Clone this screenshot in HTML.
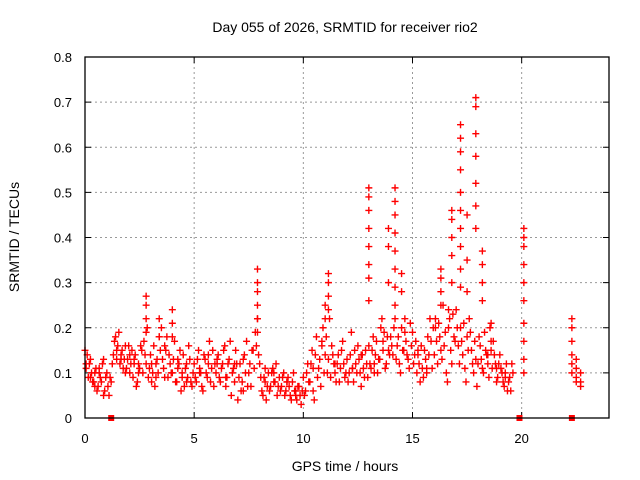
<!DOCTYPE html>
<html><head><meta charset="utf-8"><style>
body{margin:0;background:#fff}
svg{display:block;font-family:"Liberation Sans",sans-serif}
</style></head><body>
<svg id="chart" width="640" height="480">
<text x="345" y="32" font-size="14" text-anchor="middle">Day 055 of 2026, SRMTID for receiver rio2</text>
<text x="345" y="471" font-size="14" text-anchor="middle">GPS time / hours</text>
<text x="19" y="237" font-size="14" text-anchor="middle" transform="rotate(-90 19 237)">SRMTID / TECUs</text>
<g id="grid"></g><g id="ticks"></g><g id="marks"></g>
<rect x="85" y="57" width="524" height="361" fill="none" stroke="#000" stroke-width="1.3"/>
</svg>
<script>
const xTicks=[0,5,10,15,20];
const yTicks=[0,0.1,0.2,0.3,0.4,0.5,0.6,0.7,0.8];
const yTickLabels=["0","0.1","0.2","0.3","0.4","0.5","0.6","0.7","0.8"];
const hours=[
0.0,0.1,0.2,0.3,0.4,0.5,0.6,0.7,0.8,0.9,
1.0,1.1,1.2,1.3,1.4,1.5,1.6,1.7,1.8,1.9,
2.0,2.1,2.2,2.3,2.4,2.5,2.6,2.7,2.8,2.9,
3.0,3.1,3.2,3.3,3.4,3.5,3.6,3.7,3.8,3.9,
4.0,4.1,4.2,4.3,4.4,4.5,4.6,4.7,4.8,4.9,
5.0,5.1,5.2,5.3,5.4,5.5,5.6,5.7,5.8,5.9,
6.0,6.1,6.2,6.3,6.4,6.5,6.6,6.7,6.8,6.9,
7.0,7.1,7.2,7.3,7.4,7.5,7.6,7.7,7.8,7.9,
8.0,8.1,8.2,8.3,8.4,8.5,8.6,8.7,8.8,8.9,
9.0,9.1,9.2,9.3,9.4,9.5,9.6,9.7,9.8,9.9,
10.0,10.1,10.2,10.3,10.4,10.5,10.6,10.7,10.8,10.9,
11.0,11.1,11.2,11.3,11.4,11.5,11.6,11.7,11.8,11.9,
12.0,12.1,12.2,12.3,12.4,12.5,12.6,12.7,12.8,12.9,
13.0,13.1,13.2,13.3,13.4,13.5,13.6,13.7,13.8,13.9,
14.0,14.1,14.2,14.3,14.4,14.5,14.6,14.7,14.8,14.9,
15.0,15.1,15.2,15.3,15.4,15.5,15.6,15.7,15.8,15.9,
16.0,16.1,16.2,16.3,16.4,16.5,16.6,16.7,16.8,16.9,
17.0,17.1,17.2,17.3,17.4,17.5,17.6,17.7,17.8,17.9,
18.0,18.1,18.2,18.3,18.4,18.5,18.6,18.7,18.8,18.9,
19.0,19.1,19.2,19.3,19.4,19.5,19.6,
0.05,0.25,0.45,0.65,0.85,1.45,1.65,1.85,2.05,2.25,2.45,3.05,3.25,3.65,4.25,4.45,4.65,5.25,5.65,6.05,6.45,6.85,7.25,8.25,8.65,9.25,9.65,10.45,10.85,11.45,12.25,12.65,13.25,13.65,14.65,15.25,15.65,16.05,16.65,18.45,18.85,19.25,
2.8,2.8,2.8,2.8,3.4,3.4,4.0,4.0,4.0,
7.9,7.9,7.9,7.9,7.9,7.9,
11.15,11.15,11.15,11.15,11.0,11.0,
13.0,13.0,13.0,13.0,13.0,13.0,13.0,13.0,13.9,13.9,13.9,
14.2,14.2,14.2,14.2,14.2,14.2,14.2,14.2,14.5,14.5,
16.3,16.3,16.3,16.3,16.8,16.8,16.8,16.8,16.8,
17.2,17.2,17.2,17.2,17.2,17.2,17.2,17.2,17.2,17.2,17.5,17.5,17.5,
17.9,17.9,17.9,17.9,17.9,17.9,17.9,18.2,18.2,18.2,18.2,18.6,18.6,
20.1,20.1,20.1,20.1,20.1,20.1,20.1,20.1,20.1,20.1,
22.3,22.3,22.3,22.3,22.3,22.3,22.5,22.5,22.5,22.5,22.7,22.7,22.7,
0.05,0.15,0.25,0.35,0.45,0.55,0.65,0.75,0.85,0.95,
1.05,1.15,1.25,1.35,1.45,1.55,1.65,1.75,1.85,1.95,
2.05,2.15,2.25,2.35,2.45,2.55,2.65,2.75,2.85,2.95,
3.05,3.15,3.25,3.35,3.45,3.55,3.65,3.75,3.85,3.95,
4.05,4.15,4.25,4.35,4.45,4.55,4.65,4.75,4.85,4.95,
5.05,5.15,5.25,5.35,5.45,5.55,5.65,5.75,5.85,5.95,
6.05,6.15,6.25,6.35,6.45,6.55,6.65,6.75,6.85,6.95,
7.05,7.15,7.25,7.35,7.45,7.55,7.65,7.75,7.85,7.95,
8.05,8.15,8.25,8.35,8.45,8.55,8.65,8.75,8.85,8.95,
9.05,9.15,9.25,9.35,9.45,9.55,9.65,9.75,9.85,9.95,
10.05,10.15,10.25,10.35,10.45,10.55,10.65,10.75,10.85,10.95,
11.05,11.15,11.25,11.35,11.45,11.55,11.65,11.75,11.85,11.95,
12.05,12.15,12.25,12.35,12.45,12.55,12.65,12.75,12.85,12.95,
13.05,13.15,13.25,13.35,13.45,13.55,13.65,13.75,13.85,13.95,
14.05,14.15,14.25,14.35,14.45,14.55,14.65,14.75,14.85,14.95,
15.05,15.15,15.25,15.35,15.45,15.55,15.65,15.75,15.85,15.95,
16.05,16.15,16.25,16.35,16.45,16.55,16.65,16.75,16.85,16.95,
17.05,17.15,17.25,17.35,17.45,17.55,17.65,17.75,17.85,17.95,
18.05,18.15,18.25,18.35,18.45,18.55,18.65,18.75,18.85,18.95,
19.05,19.15,19.25,19.35,19.45,19.55];
const srmtid=[
0.15,0.14,0.12,0.10,0.08,0.11,0.07,0.09,0.12,0.06,
0.10,0.05,0.08,0.14,0.18,0.16,0.12,0.15,0.13,0.11,
0.16,0.12,0.09,0.14,0.08,0.11,0.15,0.17,0.12,0.09,
0.14,0.10,0.07,0.13,0.18,0.20,0.11,0.15,0.09,0.12,
0.10,0.17,0.08,0.12,0.06,0.14,0.11,0.09,0.13,0.07,
0.12,0.08,0.15,0.10,0.06,0.13,0.09,0.17,0.11,0.07,
0.10,0.14,0.08,0.12,0.16,0.09,0.13,0.05,0.11,0.15,
0.04,0.12,0.08,0.14,0.17,0.10,0.07,0.15,0.19,0.22,
0.12,0.06,0.09,0.04,0.10,0.07,0.11,0.08,0.05,0.09,
0.07,0.10,0.06,0.09,0.05,0.08,0.06,0.04,0.07,0.03,
0.09,0.06,0.12,0.08,0.15,0.04,0.18,0.11,0.07,0.20,
0.14,0.10,0.22,0.16,0.12,0.08,0.14,0.11,0.17,0.09,
0.13,0.10,0.19,0.08,0.12,0.16,0.10,0.14,0.09,0.12,
0.16,0.11,0.18,0.14,0.10,0.13,0.22,0.19,0.12,0.15,
0.18,0.14,0.22,0.16,0.12,0.20,0.15,0.17,0.13,0.21,
0.19,0.14,0.10,0.12,0.16,0.09,0.13,0.18,0.22,0.11,
0.14,0.17,0.21,0.15,0.25,0.19,0.08,0.22,0.12,0.18,
0.24,0.16,0.20,0.14,0.11,0.18,0.22,0.15,0.10,0.13,
0.12,0.16,0.11,0.19,0.14,0.09,0.15,0.17,0.12,0.09,
0.14,0.10,0.07,0.12,0.08,0.06,0.10,
0.11,0.09,0.07,0.10,0.13,0.15,0.13,0.10,0.14,0.12,0.10,0.12,0.09,0.16,0.13,0.10,0.08,0.10,0.14,0.12,0.09,0.12,0.06,0.08,0.10,0.08,0.06,0.11,0.16,0.12,0.11,0.14,0.12,0.17,0.19,0.15,0.11,0.20,0.24,0.14,0.11,0.09,
0.27,0.25,0.22,0.19,0.22,0.18,0.24,0.21,0.18,
0.33,0.30,0.28,0.25,0.22,0.19,
0.32,0.30,0.27,0.24,0.25,0.22,
0.51,0.49,0.46,0.42,0.38,0.34,0.31,0.26,0.42,0.38,0.30,
0.51,0.48,0.45,0.41,0.37,0.33,0.29,0.25,0.32,0.28,
0.33,0.31,0.28,0.25,0.46,0.44,0.40,0.36,0.30,
0.65,0.62,0.59,0.55,0.50,0.46,0.42,0.38,0.33,0.29,0.45,0.35,0.28,
0.71,0.69,0.63,0.58,0.52,0.47,0.42,0.37,0.34,0.30,0.26,0.21,0.17,
0.42,0.40,0.38,0.34,0.30,0.26,0.21,0.17,0.13,0.10,
0.22,0.20,0.17,0.14,0.12,0.10,0.13,0.11,0.09,0.08,0.10,0.08,0.07,
0.12,0.09,0.13,0.08,0.10,0.06,0.11,0.08,0.05,0.09,
0.07,0.09,0.12,0.17,0.13,0.19,0.14,0.11,0.16,0.13,
0.10,0.15,0.13,0.07,0.12,0.16,0.10,0.14,0.20,0.11,
0.08,0.16,0.12,0.10,0.15,0.13,0.09,0.18,0.14,0.10,
0.13,0.08,0.11,0.15,0.09,0.07,0.12,0.16,0.08,0.10,
0.09,0.13,0.11,0.07,0.14,0.10,0.12,0.08,0.15,0.12,
0.13,0.09,0.11,0.15,0.07,0.12,0.17,0.10,0.08,0.12,
0.09,0.06,0.13,0.10,0.07,0.12,0.15,0.11,0.16,0.14,
0.09,0.05,0.11,0.07,0.06,0.10,0.08,0.12,0.07,0.06,
0.09,0.05,0.08,0.07,0.04,0.10,0.05,0.07,0.05,0.06,
0.05,0.10,0.08,0.12,0.06,0.14,0.09,0.13,0.17,0.10,
0.18,0.13,0.09,0.14,0.10,0.12,0.08,0.15,0.12,0.10,
0.08,0.14,0.11,0.15,0.10,0.13,0.07,0.11,0.15,0.09,
0.12,0.15,0.10,0.17,0.13,0.20,0.15,0.11,0.18,0.14,
0.16,0.20,0.13,0.18,0.10,0.15,0.22,0.14,0.11,0.16,
0.12,0.17,0.14,0.08,0.11,0.15,0.10,0.14,0.17,0.20,
0.22,0.12,0.18,0.13,0.16,0.10,0.20,0.15,0.23,0.17,
0.20,0.12,0.17,0.21,0.08,0.15,0.19,0.12,0.17,0.07,
0.18,0.13,0.10,0.15,0.12,0.20,0.11,0.14,0.08,0.12,
0.11,0.08,0.10,0.06,0.09,0.12];
const gapHours=[1.2,19.9,22.3];
const X0=85,X1=609,Y0=418,Y1=57;
const xs=h=>X0+(h/24)*(X1-X0);
const ys=v=>Y0-(v/0.8)*(Y0-Y1);
const NS="http://www.w3.org/2000/svg";
function mk(tag,attrs,parent){const e=document.createElementNS(NS,tag);for(const k in attrs)e.setAttribute(k,attrs[k]);parent.appendChild(e);return e;}
const grid=document.getElementById('grid'),ticks=document.getElementById('ticks'),marks=document.getElementById('marks');
xTicks.forEach(t=>{const x=xs(t);
 if(t>0){const g=mk('line',{x1:x,x2:x,y1:Y1,y2:Y0,stroke:'#999','stroke-dasharray':'2,3'},grid);
 
 }
 const tk=mk('line',{x1:x,x2:x,y1:Y0,y2:Y0-6,stroke:'#000'},ticks);
 
 
 const tk2=mk('line',{x1:x,x2:x,y1:Y1,y2:Y1+6,stroke:'#000'},ticks);
 
 
 const lb=mk('text',{x:x,y:443,'font-size':13,'text-anchor':'middle'},ticks);lb.textContent=String(t);
 
 
});
yTicks.forEach((t,i)=>{const y=ys(t);
 if(i>0&&i<yTicks.length-1){const g=mk('line',{x1:X0,x2:X1,y1:y,y2:y,stroke:'#999','stroke-dasharray':'2,3'},grid);
 
 }
 const tk=mk('line',{x1:X0,x2:X0+6,y1:y,y2:y,stroke:'#000'},ticks);
 
 
 const tk2=mk('line',{x1:X1,x2:X1-6,y1:y,y2:y,stroke:'#000'},ticks);
 
 
 const lb=mk('text',{x:72,y:y+5,'font-size':13,'text-anchor':'end'},ticks);lb.textContent=yTickLabels[i];
 
 
});
hours.forEach((h,i)=>{const x=xs(h),y=ys(srmtid[i]);
 const p=mk('path',{d:`M${x-3.5},${y}h7M${x},${y-3.5}v7`,stroke:'#f00','stroke-width':1.4,fill:'none'},marks);
 
 
});
gapHours.forEach(h=>{const r=mk('rect',{x:xs(h)-3,y:Y0-3,width:6,height:6,fill:'#f00'},marks);
 
 
});
</script>
</body></html>
